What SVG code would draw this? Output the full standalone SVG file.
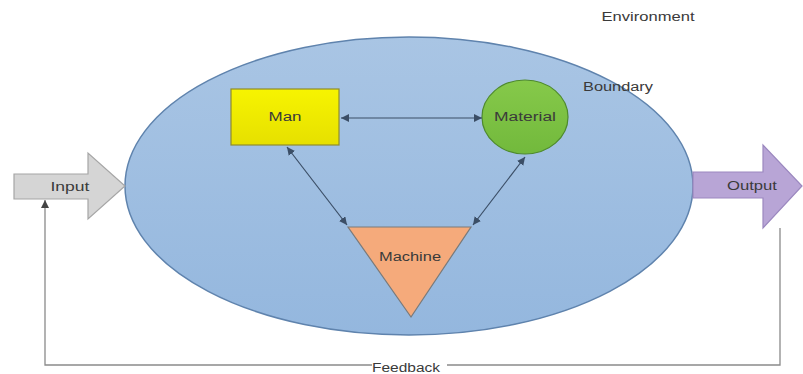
<svg xmlns="http://www.w3.org/2000/svg" width="803" height="374" viewBox="0 0 803 374">
<defs>
<linearGradient id="gBlue" x1="0" y1="0" x2="0" y2="1"><stop offset="0" stop-color="#a9c5e4"/><stop offset="1" stop-color="#94b7de"/></linearGradient>
<linearGradient id="gYel" x1="0" y1="0" x2="0" y2="1"><stop offset="0" stop-color="#f7f400"/><stop offset="1" stop-color="#e6e000"/></linearGradient>
<linearGradient id="gGrn" x1="0" y1="0" x2="0" y2="1"><stop offset="0" stop-color="#86c94a"/><stop offset="1" stop-color="#72b93c"/></linearGradient>
<marker id="ah" viewBox="0 0 10 10" refX="10" refY="5" markerWidth="8" markerHeight="8" markerUnits="userSpaceOnUse" orient="auto-start-reverse"><path d="M0,0 L10,5 L0,10 z" fill="#3b4e66"/></marker>
<marker id="ahg" viewBox="0 0 10 10" refX="10" refY="5" markerWidth="8" markerHeight="8" markerUnits="userSpaceOnUse" orient="auto"><path d="M0,0 L10,5 L0,10 z" fill="#444"/></marker>
</defs>
<style>
text{font-family:"Liberation Sans",Arial,sans-serif;font-size:12px;fill:#3a3a3a;text-anchor:middle}
.c{fill:none;stroke:#3b4e66;stroke-width:1.2}
.fb{fill:none;stroke:#8a8a8a;stroke-width:1.3}
</style>
<g id="environment"><text x="648" y="21" textLength="93" lengthAdjust="spacingAndGlyphs">Environment</text></g>
<g id="boundary">
<ellipse cx="409" cy="186" rx="284" ry="149" fill="url(#gBlue)" stroke="#5f83ad" stroke-width="1.5"/>
<text x="618" y="91" textLength="70" lengthAdjust="spacingAndGlyphs">Boundary</text>
</g>
<g id="input">
<path d="M14,174 L88,174 L88,153 L125,186 L88,219 L88,199 L14,199 z" fill="#d5d5d5" stroke="#a6a6a6" stroke-width="1.2"/>
<text x="70" y="191" textLength="39" lengthAdjust="spacingAndGlyphs">Input</text>
</g>
<g id="output">
<path d="M693,172 L763,172 L763,145 L802,186 L763,228 L763,198 L693,198 z" fill="#b8a5d6" stroke="#9b88bf" stroke-width="1.2"/>
<text x="752" y="190" textLength="50" lengthAdjust="spacingAndGlyphs">Output</text>
</g>
<g id="man">
<rect x="231" y="89" width="108" height="56" fill="url(#gYel)" stroke="#8f8c2c" stroke-width="1.2"/>
<text x="285" y="121" textLength="33" lengthAdjust="spacingAndGlyphs">Man</text>
</g>
<g id="material">
<ellipse cx="525" cy="117" rx="43" ry="37" fill="url(#gGrn)" stroke="#4e8a2c" stroke-width="1.2"/>
<text x="525" y="121" textLength="62" lengthAdjust="spacingAndGlyphs">Material</text>
</g>
<g id="machine">
<path d="M348,227 L471,227 L411,317 z" fill="#f5aa7b" stroke="#7a7a7a" stroke-width="1.2"/>
<text x="410" y="261" textLength="62" lengthAdjust="spacingAndGlyphs">Machine</text>
</g>
<g id="connectors">
<line class="c" x1="341" y1="118" x2="482" y2="118" marker-start="url(#ah)" marker-end="url(#ah)"/>
<line class="c" x1="287" y1="147" x2="347" y2="225" marker-start="url(#ah)" marker-end="url(#ah)"/>
<line class="c" x1="525" y1="157" x2="473" y2="225" marker-start="url(#ah)" marker-end="url(#ah)"/>
<path class="fb" d="M780,228 L780,365 L447,365 M372,365 L45,365 L45,200" marker-end="url(#ahg)"/>
<text x="406" y="372" textLength="68" lengthAdjust="spacingAndGlyphs">Feedback</text>
</g>
</svg>
